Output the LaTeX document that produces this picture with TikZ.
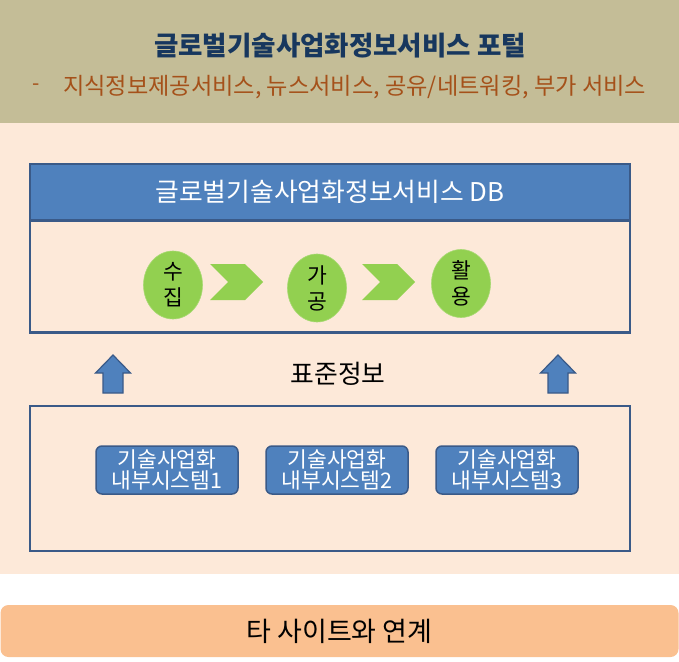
\documentclass[tikz,border=0pt]{standalone}
\usepackage{fontspec}
\setmainfont{Noto Sans CJK KR}
\usetikzlibrary{shapes.geometric,shapes.symbols}
\definecolor{tanbg}{HTML}{C4BD97}
\definecolor{peach}{HTML}{FDE9D9}
\definecolor{orangebar}{HTML}{FAC090}
\definecolor{boxblue}{HTML}{4F81BD}
\definecolor{boxborder}{HTML}{3A5A88}
\definecolor{leaf}{HTML}{92D050}
\definecolor{navy}{HTML}{17375E}
\definecolor{rust}{HTML}{A5511A}
\tikzset{
  frame/.style={draw=boxborder, line width=2.6pt, minimum width=600pt, inner sep=0pt},
  stage/.style={ellipse, fill=leaf, draw=leaf!80!white, line width=0.6pt, minimum width=59pt, minimum height=68pt, inner sep=0pt, align=center, font=\fontsize{21.5}{26}\selectfont},
  chev/.style={signal, signal to=east, signal from=west, fill=leaf, minimum width=53pt, minimum height=36pt, inner sep=0pt, signal pointer angle=90},
  uparr/.pic={\filldraw[fill=boxblue, draw=boxborder, line width=1.2pt, line join=miter]
    (0,-19) -- (17.5,-1) -- (10,-1) -- (10,19) -- (-10,19) -- (-10,-1) -- (-17.5,-1) -- cycle;},
  sysbox/.style={rounded corners=6pt, fill=boxblue, draw=boxborder, line width=1.5pt, minimum width=142pt, minimum height=48pt, align=center, text=white, inner sep=0pt, font=\fontsize{21.5}{22}\selectfont}
}
\begin{document}
\begin{tikzpicture}[x=1pt,y=-1pt]
\useasboundingbox (0,0) rectangle (679,661);
% backgrounds
\fill[white] (0,0) rectangle (679,661);
\fill[tanbg] (0,0) rectangle (679,123);
\fill[peach] (0,123) rectangle (679,574);
\node[fill=orangebar, rounded corners=8pt, minimum width=678pt, minimum height=52pt, inner sep=0pt, font=\fontsize{27}{30}\selectfont] (link) at (339.5,631) {타 사이트와 연계};
% header texts
\node[text=navy, font=\fontsize{26.5}{30}\selectfont\bfseries] (portal) at (340,46) {글로벌기술사업화정보서비스 포털};
\node[text=rust, font=\fontsize{21}{26}\selectfont] (dash) at (36,87) {-};
\node[text=rust, font=\fontsize{23.2}{26}\selectfont, anchor=west, inner sep=0pt] (services) at (63,87) {지식정보제공서비스, 뉴스서비스, 공유/네트워킹, 부가 서비스};
% DB box
\node[frame, fill=peach, minimum height=112pt] (dbbody) at (330,276.5) {};
\node[frame, fill=boxblue, minimum height=56pt, text=white, font=\fontsize{25.8}{28}\selectfont] (dbhead) at (330,192) {글로벌기술사업화정보서비스 DB};
% stages
\node[stage] (collect) at (173,285) {수\\집};
\node[chev] (c1) at (236.5,282) {};
\node[stage] (process) at (317,288) {가\\공};
\node[chev] (c2) at (388.5,282) {};
\node[stage] (use) at (461,283.5) {활\\용};
% standard info
\pic (upL) at (113,374) {uparr};
\pic (upR) at (558,374) {uparr};
\node[font=\fontsize{25.8}{28}\selectfont] (std) at (338,374) {표준정보};
% lower box
\node[frame, minimum height=145pt] (sysframe) at (330,478.5) {};
\node[sysbox] (sys1) at (167,470) {기술사업화\\[-1pt]내부시스템1};
\node[sysbox] (sys2) at (337,470) {기술사업화\\[-1pt]내부시스템2};
\node[sysbox] (sys3) at (507,470) {기술사업화\\[-1pt]내부시스템3};
\end{tikzpicture}
\end{document}
